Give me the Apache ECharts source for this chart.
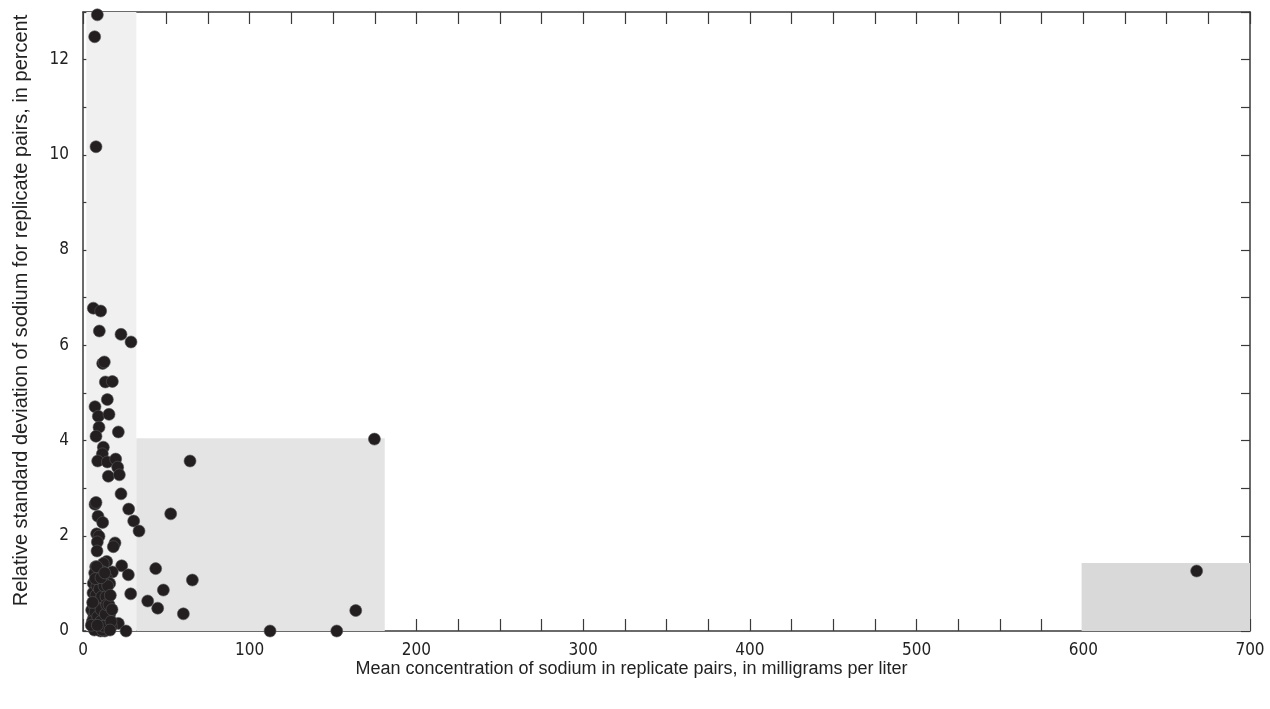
<!DOCTYPE html>
<html>
<head>
<meta charset="utf-8">
<script src="https://cdn.jsdelivr.net/npm/echarts@6/dist/echarts.min.js"></script>
<style>
	html, body { margin: 0; padding: 0; background: #fff; }
	#chart { width: 1270px; height: 709px; }
</style>
</head>
<body>
<div id="chart"></div>
<script>
	// sodium replicate pairs: [mean concentration mg/L, relative std deviation %]
	var outerPoints = [
		[8.6, 12.94], [7.0, 12.48], [7.8, 10.17],
		[6.2, 6.78], [10.6, 6.72], [9.8, 6.30], [22.8, 6.23], [28.8, 6.07],
		[11.8, 5.62], [12.8, 5.65], [13.4, 5.23], [17.6, 5.24], [14.6, 4.86],
		[7.2, 4.71], [9.2, 4.51], [15.6, 4.55], [9.6, 4.28], [21.2, 4.18], [7.8, 4.09],
		[12.2, 3.86], [11.6, 3.72], [8.8, 3.57], [14.6, 3.55], [19.6, 3.61], [20.8, 3.44],
		[15.2, 3.25], [21.8, 3.28], [22.8, 2.88], [7.2, 2.66], [7.8, 2.70], [27.4, 2.56],
		[9.0, 2.41], [11.8, 2.28], [30.4, 2.31], [33.6, 2.10], [8.2, 2.04], [9.6, 1.99],
		[8.6, 1.87], [19.2, 1.85], [18.2, 1.77], [8.4, 1.68], [14.2, 1.46], [12.2, 1.42],
		[7.6, 1.35], [23.2, 1.37], [17.6, 1.24], [27.2, 1.18], [28.6, 0.78], [21.2, 0.16],
		[25.8, 0.0]
	];
	var clusterPoints = [
		[5.2, 0.44], [6.0, 0.10], [6.5, 0.30], [7.0, 0.62], [7.5, 0.92], [8.0, 0.20],
		[8.0, 1.18], [8.5, 0.52], [9.0, 0.05], [9.0, 0.80], [9.5, 1.08], [10.0, 0.35],
		[10.2, 0.66], [10.5, 0.00], [11.0, 0.95], [11.0, 0.15], [11.5, 0.50], [12.0, 0.76],
		[12.0, 1.24], [12.5, 0.30], [13.0, 0.00], [13.2, 0.60], [13.5, 0.90], [14.0, 0.20],
		[14.0, 1.12], [14.5, 0.45], [15.0, 0.70], [15.5, 0.05], [16.0, 0.35], [16.0, 1.00],
		[17.0, 0.10], [6.2, 1.00], [7.0, 1.22], [5.6, 0.20], [6.8, 0.02], [9.2, 0.40],
		[10.4, 1.26], [11.6, 0.02], [12.8, 0.46], [15.0, 0.20],
		[6.0, 0.80], [6.4, 0.55], [7.2, 0.40], [7.8, 0.75], [8.4, 0.95], [8.8, 0.30],
		[9.6, 0.58], [9.8, 0.88], [10.6, 0.20], [10.8, 0.45], [11.2, 0.72], [11.8, 1.05],
		[12.2, 0.10], [12.6, 0.95], [13.4, 0.35], [13.8, 0.72], [14.2, 0.55], [14.8, 0.95],
		[15.6, 0.55], [16.4, 0.75], [16.8, 0.20], [17.4, 0.45], [7.4, 1.10], [8.2, 1.35],
		[10.8, 1.12], [13.0, 1.22], [5.8, 0.60], [5.0, 0.12], [8.6, 0.12], [16.2, 0.02]
	];
	var midPoints = [
		[64.2, 3.57], [174.8, 4.03], [52.6, 2.46], [43.6, 1.31], [65.6, 1.07],
		[48.2, 0.86], [38.8, 0.63], [44.8, 0.48], [60.2, 0.36], [163.6, 0.43],
		[112.2, 0.0], [152.2, 0.0], [668.0, 1.26]
	];

	// shaded ranges: [x from, x to, y top]
	var zoneRanges = [[2, 32, 13], [32, 181, 4.05], [599, 700, 1.43]];
	var zoneColors = ['#f0f0f0', '#e4e4e4', '#d9d9d9'];

	var xTitle = 'Mean concentration of sodium in replicate pairs, in milligrams per liter';
	var yTitle = 'Relative standard deviation of sodium for replicate pairs, in percent';

	var tickFont = "'Liberation Sans Narrow', 'DejaVu Sans Condensed', sans-serif";
	var titleFont = "'Liberation Sans', Arial, sans-serif";
	var lineColor = '#3a3a3a';

	var myChart = echarts.init(document.getElementById('chart'));

	var areaData = [];
	for (var i = 0; i < zoneRanges.length; i++) {
		areaData.push([
			{ xAxis: zoneRanges[i][0], yAxis: 0, itemStyle: { color: zoneColors[i] } },
			{ xAxis: zoneRanges[i][1], yAxis: zoneRanges[i][2] }
		]);
	}

	// one axis builder, used for the frame on all four sides
	function makeAxis(isX, pos, showLabel, withName) {
		var ax = {
			type: 'value',
			position: pos,
			min: 0,
			max: isX ? 700 : 13,
			interval: isX ? 100 : 2,
			axisLine: { show: true, onZero: false, lineStyle: { color: lineColor, width: 1.5 } },
			axisTick: { show: true, inside: true, length: isX ? 12 : 9, lineStyle: { color: lineColor, width: 1.2 } },
			minorTick: { show: true, splitNumber: isX ? 4 : 2, length: isX ? 12 : 9, lineStyle: { color: lineColor, width: 1.2 } },
			splitLine: { show: false },
			axisLabel: {
				show: showLabel,
				showMaxLabel: isX,
				margin: isX ? 11 : 14,
				color: '#222',
				fontSize: 17,
				fontFamily: tickFont
			}
		};
		if (withName) {
			ax.name = isX ? xTitle : yTitle;
			ax.nameLocation = 'middle';
			ax.nameGap = isX ? 29 : 52;
			ax.nameMoveOverlap = false;
			// titles sit a little off the plot centre in the original
			ax.nameTextStyle = {
				color: '#222',
				fontSize: isX ? 18 : 20,
				fontFamily: titleFont,
				padding: isX ? [0, 70, 0, 0] : [0, 0, 0, 22]
			};
		}
		return ax;
	}

	var option = {
		animation: false,
		backgroundColor: '#fff',
		grid: { left: 83, right: 20, top: 12, bottom: 78 },
		xAxis: [makeAxis(true, 'bottom', true, true), makeAxis(true, 'top', false, false)],
		yAxis: [makeAxis(false, 'left', true, true), makeAxis(false, 'right', false, false)],
		series: [
			{
				type: 'scatter',
				data: [],
				z: 1,
				markArea: { silent: true, data: areaData }
			},
			{
				type: 'scatter',
				symbolSize: 12,
				z: 3,
				itemStyle: { color: '#231f20', borderColor: '#555', borderWidth: 0.6, opacity: 1 },
				data: outerPoints.concat(clusterPoints, midPoints)
			}
		]
	};

	myChart.setOption(option);
</script>
</body>
</html>
